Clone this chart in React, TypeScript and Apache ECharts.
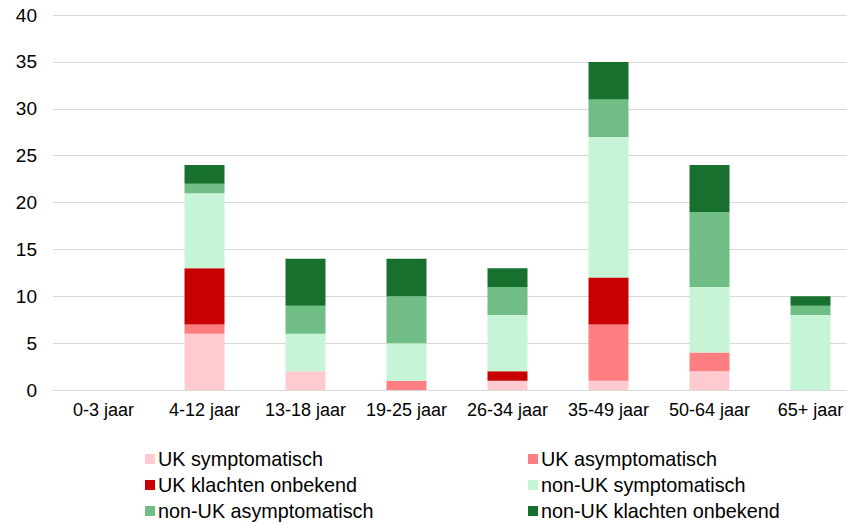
import React, { useEffect, useRef } from "react";
import * as echarts from "echarts";

const categories = ["0-3 jaar", "4-12 jaar", "13-18 jaar", "19-25 jaar", "26-34 jaar", "35-49 jaar", "50-64 jaar", "65+ jaar"];
const ukSymptomatisch = [0, 6, 2, 0, 1, 1, 2, 0];
const ukAsymptomatisch = [0, 1, 0, 1, 0, 6, 2, 0];
const ukKlachtenOnbekend = [0, 6, 0, 0, 1, 5, 0, 0];
const nonUkSymptomatisch = [0, 8, 4, 4, 6, 15, 7, 8];
const nonUkAsymptomatisch = [0, 1, 3, 5, 3, 4, 8, 1];
const nonUkKlachtenOnbekend = [0, 2, 5, 4, 2, 4, 5, 1];

const seriesDefs = [
  { name: "UK symptomatisch", data: ukSymptomatisch, color: "#ffcbd0" },
  { name: "UK asymptomatisch", data: ukAsymptomatisch, color: "#ff7e82" },
  { name: "UK klachten onbekend", data: ukKlachtenOnbekend, color: "#c80000" },
  { name: "non-UK symptomatisch", data: nonUkSymptomatisch, color: "#c6f4d6" },
  { name: "non-UK asymptomatisch", data: nonUkAsymptomatisch, color: "#70bd85" },
  { name: "non-UK klachten onbekend", data: nonUkKlachtenOnbekend, color: "#17702e" },
];

const font = "'Liberation Sans', Arial, sans-serif";

export default function App() {
  const ref = useRef<HTMLDivElement>(null);
  useEffect(() => {
    if (!ref.current) return;
    const chart = echarts.init(ref.current, null, { renderer: "svg" });
    const legendCommon = {
      orient: "vertical" as const,
      icon: "rect",
      itemWidth: 10,
      itemHeight: 10,
      itemGap: 0,
      top: 446,
      textStyle: { fontSize: 19.8, color: "#000", fontFamily: font, lineHeight: 26, padding: [0, 0, 0, -2] },
      padding: 0,
    };
    chart.setOption({
      animation: false,
      textStyle: { fontFamily: font },
      grid: { left: 53, right: 0, top: 15, bottom: 134, containLabel: false },
      legend: [
        { ...legendCommon, left: 145, data: [seriesDefs[0].name, seriesDefs[2].name, seriesDefs[4].name] },
        { ...legendCommon, left: 528, data: [seriesDefs[1].name, seriesDefs[3].name, seriesDefs[5].name] },
      ],
      xAxis: {
        type: "category",
        data: categories,
        axisTick: { show: false },
        axisLine: { lineStyle: { color: "#d9d9d9", width: 1 } },
        axisLabel: { fontSize: 18, color: "#000", margin: 11, fontFamily: font, interval: 0 },
      },
      yAxis: {
        type: "value",
        min: 0,
        max: 40,
        interval: 5,
        axisLine: { show: false },
        axisTick: { show: false },
        splitLine: { lineStyle: { color: "#d9d9d9", width: 1 } },
        axisLabel: { fontSize: 19, color: "#000", margin: 16, fontFamily: font },
      },
      series: seriesDefs.map((s) => ({
        name: s.name,
        type: "bar",
        stack: "total",
        barWidth: 40,
        data: s.data,
        itemStyle: { color: s.color },
      })),
    });
    return () => chart.dispose();
  }, []);
  return (
    <div style={{ position: "absolute", left: 0, top: 0, width: 847, height: 524, overflow: "hidden" }}>
      <div ref={ref} style={{ width: 861, height: 524 }} />
    </div>
  );
}
